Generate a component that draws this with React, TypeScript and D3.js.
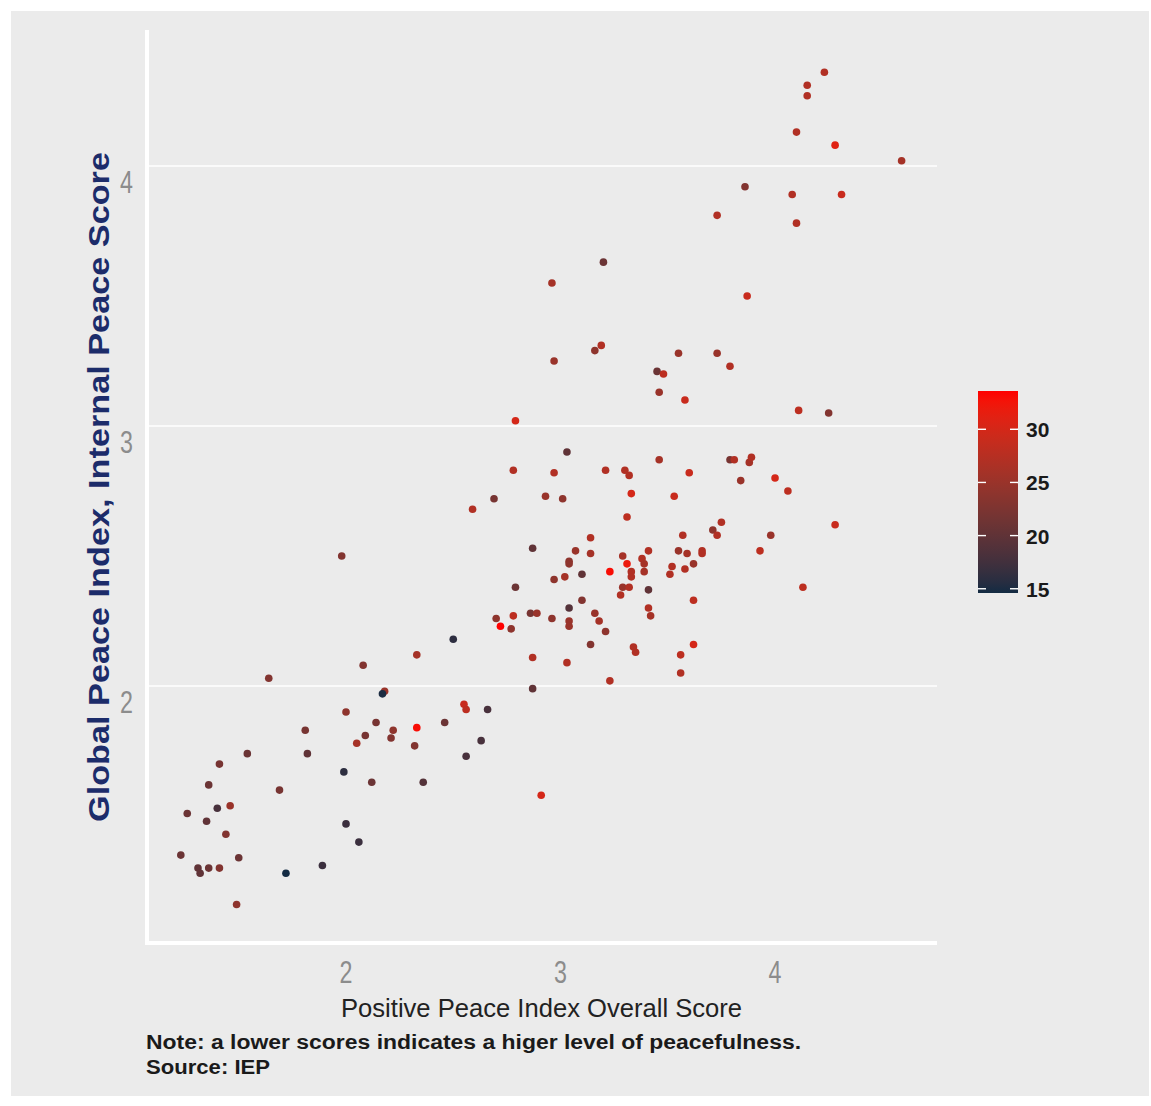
import React from 'react';
import * as d3 from 'd3';

// Positive Peace Index overall score (x)
const ppiScore = [
  1.23, 1.26, 1.31, 1.32, 1.35, 1.36, 1.36, 1.40, 1.41, 1.41,
  1.44, 1.46, 1.49, 1.50, 1.54, 1.64, 1.69, 1.72, 1.81, 1.82,
  1.89, 1.98, 1.99, 2.00, 2.00, 2.05, 2.06, 2.08, 2.09, 2.12,
  2.14, 2.18, 2.17, 2.21, 2.22, 2.32, 2.33, 2.33, 2.36, 2.46,
  2.50, 2.55, 2.56, 2.56, 2.59, 2.63, 2.66, 2.69, 2.70, 2.72,
  2.77, 2.78, 2.78, 2.79, 2.79, 2.86, 2.89, 2.87, 2.87, 2.87,
  2.91, 2.93, 2.96, 2.97, 2.97, 2.96, 2.97, 3.01, 3.02, 3.03,
  3.04, 3.03, 3.04, 3.04, 3.04, 3.04, 3.07, 3.10, 3.10, 3.14,
  3.14, 3.14, 3.16, 3.19, 3.16, 3.18, 3.20, 3.21, 3.21, 3.23,
  3.23, 3.28, 3.29, 3.29, 3.30, 3.31, 3.31, 3.32, 3.32, 3.33,
  3.33, 3.33, 3.34, 3.35, 3.38, 3.39, 3.39, 3.41, 3.41, 3.41,
  3.42, 3.45, 3.48, 3.46, 3.46, 3.51, 3.52, 3.53, 3.55, 3.55,
  3.56, 3.56, 3.57, 3.58, 3.58, 3.59, 3.60, 3.62, 3.62, 3.62,
  3.66, 3.66, 3.71, 3.73, 3.73, 3.73, 3.75, 3.79, 3.79, 3.81,
  3.84, 3.86, 3.87, 3.88, 3.89, 3.93, 3.98, 4.00, 4.06, 4.08,
  4.10, 4.10, 4.11, 4.13, 4.15, 4.15, 4.23, 4.25, 4.28, 4.28,
  4.31, 4.59,
];

// Global Peace Index, internal peace score (y)
const gpiInternal = [
  1.35, 1.51, 1.30, 1.28, 1.48, 1.62, 1.30, 1.53, 1.70, 1.30,
  1.43, 1.54, 1.16, 1.34, 1.74, 2.03, 1.60, 1.28, 1.83, 1.74,
  1.31, 2.50, 1.67, 1.90, 1.47, 1.78, 1.40, 2.08, 1.81, 1.63,
  1.86, 1.98, 1.97, 1.80, 1.83, 1.77, 2.12, 1.84, 1.63, 1.86,
  2.18, 1.93, 1.91, 1.73, 2.68, 1.79, 1.91, 2.72, 2.26, 2.23,
  2.22, 2.83, 2.27, 3.02, 2.38, 2.28, 2.28, 2.11, 1.99, 2.53,
  1.58, 2.73, 3.55, 2.82, 2.41, 2.26, 3.25, 2.72, 2.42, 2.90,
  2.30, 2.09, 2.48, 2.47, 2.25, 2.23, 2.52, 2.43, 2.33, 2.57,
  2.51, 2.16, 3.29, 3.31, 2.28, 2.25, 3.63, 2.83, 2.21, 2.44,
  2.02, 2.35, 2.50, 2.38, 2.83, 2.47, 2.65, 2.81, 2.38, 2.74,
  2.44, 2.42, 2.15, 2.13, 2.49, 2.47, 2.44, 2.52, 2.37, 2.30,
  2.27, 3.21, 3.20, 3.13, 2.87, 2.43, 2.46, 2.73, 3.28, 2.52,
  2.12, 2.05, 2.58, 3.10, 2.45, 2.51, 2.82, 2.33, 2.47, 2.16,
  2.52, 2.51, 2.60, 3.28, 2.58, 3.81, 2.63, 3.23, 2.87, 2.87,
  2.79, 3.92, 3.50, 2.86, 2.88, 2.52, 2.58, 2.80, 2.75, 3.89,
  3.78, 4.13, 3.06, 2.38, 4.31, 4.27, 4.36, 3.05, 4.08, 2.62,
  3.89, 4.02,
];

// Colour variable (legend 15–30)
const colourValue = [
  21, 21, 20, 20, 20, 21, 21, 18, 22, 23,
  23, 25, 24, 21, 21, 23, 22, 14.6, 22, 20,
  17, 23, 16, 24, 17, 26, 17, 23, 22, 21,
  22, 25, 15, 23, 24, 23, 26, 33, 19, 21,
  16, 29, 28, 18, 27, 18, 18, 22, 24, 33.6,
  24, 27, 28, 30, 21, 22, 25, 27, 20, 20,
  30, 25, 26, 27, 24, 24, 25, 24, 26, 20,
  19, 27, 24, 24, 25, 25, 25, 20, 23, 27,
  26, 23, 24, 27, 25, 26, 21, 27, 24, 33,
  27, 27, 26, 25, 27, 32, 28, 27, 27, 30,
  27, 27, 27, 27, 27, 26, 26, 27, 20, 27,
  26, 21, 28, 25, 26, 27, 27, 29, 25, 25,
  28, 27, 27, 29, 27, 26, 29, 28, 25, 30,
  27, 27, 24, 25, 27, 27, 27, 27, 22, 27,
  25, 23, 29, 26, 27, 28, 25, 30, 28, 27,
  27, 27, 28, 28, 27, 27, 27, 23, 31, 29,
  29, 26,
];

const xTicks = [2, 3, 4];
const yTicks = [2, 3, 4];
const legendTicks = [15, 20, 25, 30];

const xTitle = 'Positive Peace Index Overall Score';
const yTitle = 'Global Peace Index, Internal Peace Score';
const note = 'Note: a lower scores indicates a higer level of peacefulness.';
const source = 'Source: IEP';

export default function App() {
  const W = 1151;
  const H = 1106;
  const panel = { left: 148, right: 937, top: 32, bottom: 943 };

  const x = d3.scaleLinear().domain([1.077, 4.755]).range([panel.left, panel.right]);
  const y = d3.scaleLinear().domain([1.012, 4.515]).range([panel.bottom, panel.top]);

  const [cMin, cMax] = d3.extent(colourValue) as [number, number];
  const color = d3
    .scaleLinear<string>()
    .domain([cMin, cMax])
    .range(['#132B43', '#ff0000'])
    .interpolate(d3.interpolateLab);

  const leg = { x: 978, w: 40, top: 391, bottom: 593 };
  const ly = d3.scaleLinear().domain([cMin, cMax]).range([leg.bottom, leg.top]);
  const stops = d3.range(0, 1.0001, 0.05);

  const points = ppiScore.map((v, i) => ({ x: v, y: gpiInternal[i], c: colourValue[i] }));

  const sans = '"Liberation Sans", Arial, sans-serif';

  return (
    <div style={{ position: 'absolute', left: 0, top: 0 }}>
      <svg width={W} height={H} style={{ display: 'block' }}>
        <defs>
          <linearGradient id="legGrad" x1="0" y1="1" x2="0" y2="0">
            {stops.map((t) => (
              <stop key={t} offset={t} stopColor={color(cMin + t * (cMax - cMin))} />
            ))}
          </linearGradient>
        </defs>
        <rect x={0} y={0} width={W} height={H} fill="#ffffff" />
        <rect x={11} y={11} width={1138} height={1085} fill="#ebebeb" />

        {/* gridlines */}
        {yTicks.map((t) => (
          <line key={t} x1={panel.left} x2={panel.right} y1={y(t)} y2={y(t)} stroke="#ffffff" strokeWidth={1.6} />
        ))}

        {/* axis lines */}
        <line x1={147} x2={147} y1={panel.top - 2} y2={panel.bottom + 2} stroke="#ffffff" strokeWidth={4} />
        <line x1={145} x2={panel.right} y1={panel.bottom} y2={panel.bottom} stroke="#ffffff" strokeWidth={4} />

        {/* points */}
        {points.map((p, i) => (
          <circle key={i} cx={x(p.x)} cy={y(p.y)} r={3.8} fill={color(p.c)} />
        ))}

        {/* y tick labels (condensed) */}
        {yTicks.map((t) => (
          <text
            key={t}
            transform={`translate(133, ${y(t) + 27}) scale(0.75, 1)`}
            textAnchor="end"
            fontFamily={sans}
            fontSize={31}
            fill="#8c8c8c"
          >
            {t}
          </text>
        ))}

        {/* x tick labels (condensed) */}
        {xTicks.map((t) => (
          <text
            key={t}
            transform={`translate(${x(t)}, 983) scale(0.75, 1)`}
            textAnchor="middle"
            fontFamily={sans}
            fontSize={31}
            fill="#8c8c8c"
          >
            {t}
          </text>
        ))}

        {/* axis titles */}
        <text x={341} y={1017} fontFamily={sans} fontSize={25} fill="#222222" textLength={401} lengthAdjust="spacingAndGlyphs">
          {xTitle}
        </text>
        <text
          transform={`translate(109, 822) rotate(-90)`}
          fontFamily={sans}
          fontWeight="bold"
          fontSize={30}
          fill="#1c2c6a"
          textLength={670}
          lengthAdjust="spacingAndGlyphs"
        >
          {yTitle}
        </text>

        {/* notes */}
        <text x={146} y={1049} fontFamily={sans} fontWeight="bold" fontSize={20} fill="#1a1a1a" textLength={655} lengthAdjust="spacingAndGlyphs">
          {note}
        </text>
        <text x={146} y={1074} fontFamily={sans} fontWeight="bold" fontSize={20} fill="#1a1a1a" textLength={124} lengthAdjust="spacingAndGlyphs">
          {source}
        </text>

        {/* legend */}
        <rect x={leg.x} y={leg.top} width={leg.w} height={leg.bottom - leg.top} fill="url(#legGrad)" />
        {legendTicks.map((t) => (
          <g key={t}>
            <line x1={leg.x} x2={leg.x + 8} y1={ly(t)} y2={ly(t)} stroke="#ffffff" strokeWidth={1.4} />
            <line x1={leg.x + leg.w - 8} x2={leg.x + leg.w} y1={ly(t)} y2={ly(t)} stroke="#ffffff" strokeWidth={1.4} />
            <text x={1026} y={ly(t) + 8} fontFamily={sans} fontWeight="bold" fontSize={21} fill="#1a1a1a">
              {t}
            </text>
          </g>
        ))}
      </svg>
    </div>
  );
}
